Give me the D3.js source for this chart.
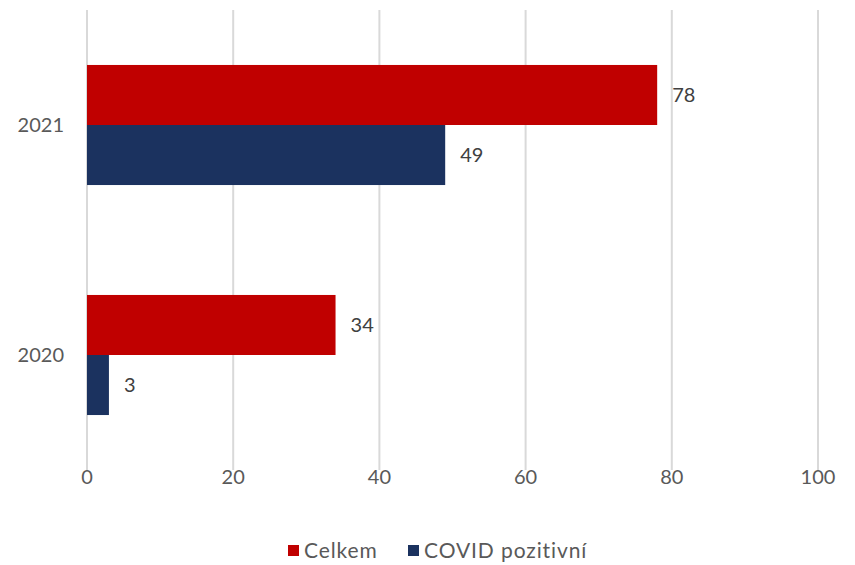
<!DOCTYPE html>
<html>
<head>
<meta charset="utf-8">
<script src="https://cdn.jsdelivr.net/npm/d3@7"></script>
<style>
  body { margin: 0; background: #fff; }
  svg { font-family: "Lato", "Open Sans", sans-serif; }
</style>
</head>
<body>
<script>
var years = ["2021", "2020"];
var seriesNames = ["Celkem", "COVID pozitivní"];
var celkem = [78, 34];
var covid = [49, 3];
var colors = ["#c00000", "#1b325f"];
var xTicks = [0, 20, 40, 60, 80, 100];

var width = 855,
    height = 565;

var svg = d3.select("body").append("svg")
    .attr("width", width)
    .attr("height", height);

var x = d3.scaleLinear()
    .domain([0, 100])
    .range([87, 818]);

var y = d3.scaleBand()
    .domain(years)
    .range([10, 470]);

// bars take about half of each band
var groupH = y.bandwidth() * 0.522;
var y1 = d3.scaleBand()
    .domain(seriesNames)
    .range([0, groupH]);

// grid
svg.append("g")
  .selectAll("line")
  .data(xTicks)
  .enter()
  .append("line")
  .attr("x1", function(d) { return x(d); })
  .attr("x2", function(d) { return x(d); })
  .attr("y1", 10)
  .attr("y2", 470)
  .attr("stroke", "#d9d9d9")
  .attr("stroke-width", 2);

// x tick labels
svg.append("g")
  .selectAll("text")
  .data(xTicks)
  .enter()
  .append("text")
  .attr("x", function(d) { return x(d); })
  .attr("y", 477)
  .attr("dy", "0.35em")
  .attr("text-anchor", "middle")
  .attr("fill", "#595959")
  .attr("font-size", 20)
  .text(function(d) { return d; });

// year labels
svg.append("g")
  .selectAll("text")
  .data(years)
  .enter()
  .append("text")
  .attr("x", 64)
  .attr("y", function(d) { return y(d) + y.bandwidth() / 2; })
  .attr("dy", "0.35em")
  .attr("text-anchor", "end")
  .attr("fill", "#595959")
  .attr("font-size", 20)
  .text(function(d) { return d; });

var rows = [];
years.forEach(function(yr, i) {
  rows.push({ year: yr, s: seriesNames[0], v: celkem[i], c: colors[0] });
  rows.push({ year: yr, s: seriesNames[1], v: covid[i], c: colors[1] });
});

function barY(d) {
  return y(d.year) + (y.bandwidth() - groupH) / 2 + y1(d.s);
}

svg.append("g")
  .selectAll("rect")
  .data(rows)
  .enter()
  .append("rect")
  .attr("x", x(0))
  .attr("y", barY)
  .attr("width", function(d) { return x(d.v) - x(0); })
  .attr("height", y1.bandwidth())
  .attr("fill", function(d) { return d.c; });

// value labels
svg.append("g")
  .selectAll("text")
  .data(rows)
  .enter()
  .append("text")
  .attr("x", function(d) { return x(d.v) + 15; })
  .attr("y", function(d) { return barY(d) + y1.bandwidth() / 2; })
  .attr("dy", "0.35em")
  .attr("fill", "#404040")
  .attr("font-size", 20)
  .text(function(d) { return d.v; });

// legend
var legend = svg.append("g");
var legX = [288, 408];
seriesNames.forEach(function(name, i) {
  legend.append("rect")
    .attr("x", legX[i])
    .attr("y", 545)
    .attr("width", 11)
    .attr("height", 11)
    .attr("fill", colors[i]);
  legend.append("text")
    .attr("x", legX[i] + 16)
    .attr("y", 551)
    .attr("dy", "0.35em")
    .attr("fill", "#595959")
    .attr("font-size", 21)
    .attr("letter-spacing", 0.9)
    .text(name);
});
</script>
</body>
</html>
